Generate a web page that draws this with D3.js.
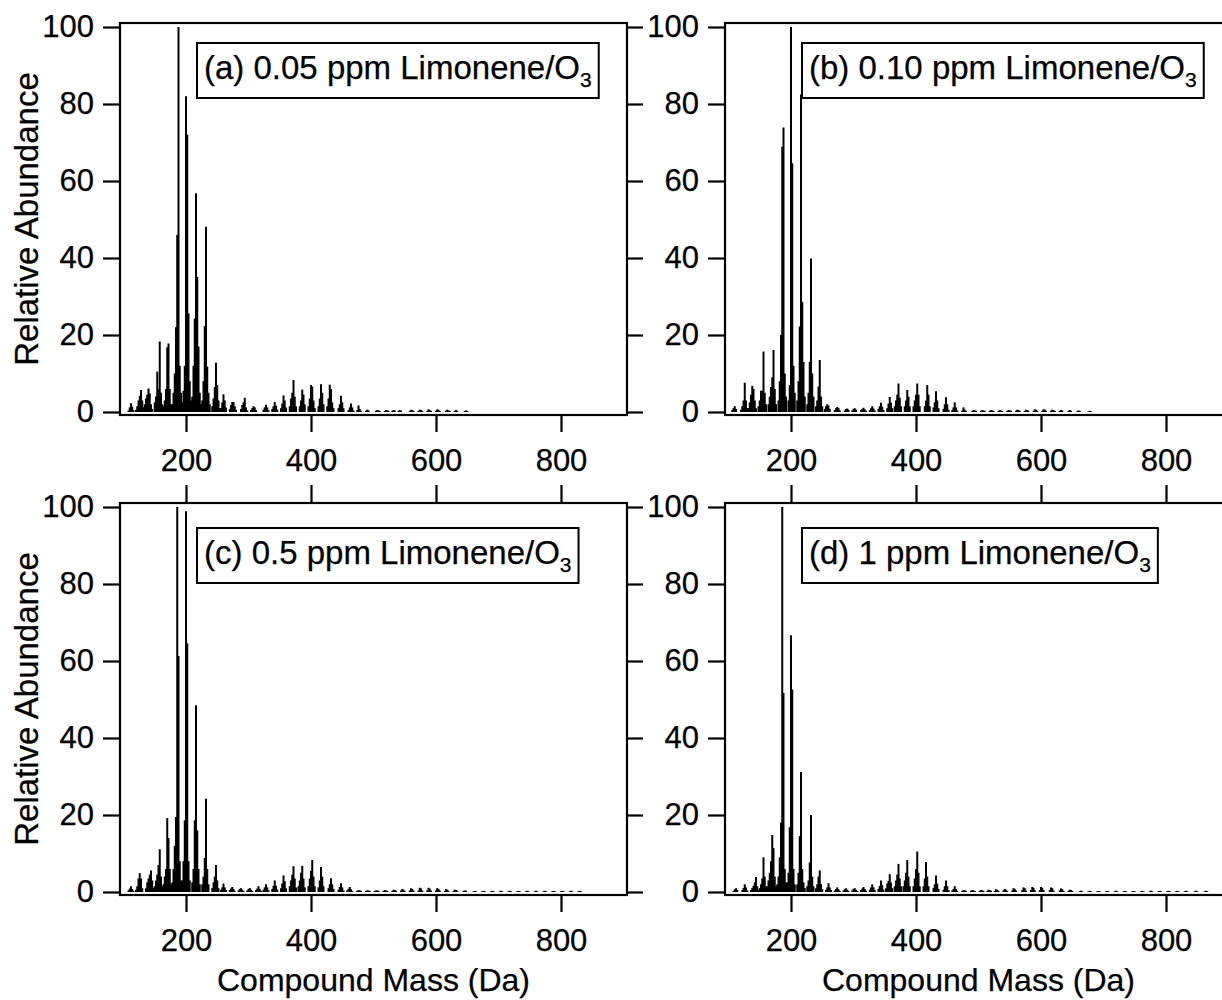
<!DOCTYPE html>
<html>
<head>
<meta charset="utf-8">
<script src="https://cdn.jsdelivr.net/npm/d3@7"></script>
<style>
  html, body { margin: 0; padding: 0; background: #fff; }
  svg { display: block; }
  text { font-family: "Liberation Sans", Arial, Helvetica, sans-serif; fill: #000; }
</style>
</head>
<body>
<svg id="chart" width="1222" height="1000"></svg>
<script>
// ---------------- DATA ----------------
// Each cluster: [first mass (Da), abundance at that mass, at mass+2, at mass+4, ...]
const spectrumA = [
  [108, 0.4, 1.2, 2.3, 1.4, 0.5],
  [120, 0.6, 1.5, 3.0, 4.2, 5.7, 3.0, 1.2],
  [132, 0.8, 2.0, 3.5, 4.5, 6.1, 4.8, 2.0, 0.8],
  [150, 2.5, 4.0, 10.5, 6.0, 18.3, 5.0, 2.0],
  [164, 1.5, 3.0, 6.0, 16.8, 17.8, 6.0, 2.0],
  [178, 2.0, 5.0, 10.0, 22.0, 46.0, 100, 12.0, 5.0],
  [194, 2.5, 5.5, 12.0, 82.0, 72.0, 25.6, 8.0, 3.0],
  [210, 4.0, 12.0, 24.3, 56.8, 35.1, 17.0, 5.0, 2.0],
  [226, 3.0, 8.0, 22.3, 48.1, 11.8, 5.0, 2.0],
  [242, 1.5, 3.5, 6.5, 12.8, 7.0, 3.0, 1.0],
  [256, 1.0, 2.5, 4.6, 3.0, 1.2],
  [270, 0.8, 1.8, 2.6, 2.6, 1.5, 0.6],
  [288, 0.8, 1.8, 2.5, 3.7, 1.2, 0.4],
  [304, 0.5, 1.0, 1.5, 1.2, 0.5],
  [324, 0.6, 1.2, 1.9, 1.2, 0.5],
  [338, 0.8, 1.5, 2.6, 1.6, 0.6],
  [352, 1.0, 2.2, 4.3, 3.0, 1.2],
  [366, 1.5, 3.5, 5.0, 8.3, 4.0, 1.5],
  [382, 1.5, 3.0, 5.8, 4.5, 2.0],
  [396, 1.5, 3.5, 7.0, 6.6, 3.0, 1.0],
  [412, 1.5, 3.5, 7.2, 5.0, 2.0],
  [426, 1.5, 3.5, 7.1, 6.0, 2.5, 1.0],
  [444, 1.0, 2.0, 4.2, 2.5, 1.0],
  [460, 0.5, 1.2, 2.2, 1.2, 0.4],
  [474, 0.5, 1.7, 0.8, 0.3],
  [488, 0.3, 0.6, 0.4],
  [504, 0.3, 0.5, 0.4, 0.3],
  [518, 0.3, 0.5, 0.5, 0.3],
  [530, 0.3, 0.5, 0.4],
  [540, 0.3, 0.5, 0.4],
  [558, 0.3, 0.6, 0.5, 0.3],
  [572, 0.3, 0.6, 0.5, 0.3],
  [586, 0.3, 0.7, 0.5, 0.3],
  [600, 0.3, 0.7, 0.5, 0.3],
  [616, 0.3, 0.6, 0.4, 0.3],
  [630, 0.3, 0.5, 0.3],
  [646, 0.3, 0.4, 0.3]
];

const spectrumB = [
  [106, 0.5, 1.0, 1.5, 0.8],
  [120, 0.6, 1.5, 3.0, 7.6, 3.0, 1.0],
  [132, 1.0, 2.5, 4.5, 6.8, 6.0, 3.0, 1.0],
  [148, 1.5, 3.0, 5.5, 5.5, 15.7, 5.0, 2.0],
  [164, 2.0, 4.0, 6.5, 9.0, 16.1, 6.0, 2.0],
  [180, 3.0, 8.0, 20.0, 68.9, 73.9, 10.0, 4.0],
  [196, 3.0, 7.0, 100, 64.6, 12.0, 5.0],
  [210, 3.0, 8.0, 22.2, 82.5, 28.6, 13.0, 4.0],
  [226, 2.0, 5.0, 13.0, 39.9, 10.0, 4.0],
  [240, 1.5, 3.0, 6.6, 13.5, 4.0, 1.5],
  [254, 0.8, 1.5, 2.0, 1.7, 0.8],
  [270, 0.5, 1.0, 1.3, 1.0, 0.4],
  [286, 0.4, 0.8, 0.9, 0.6],
  [298, 0.4, 0.8, 1.0, 0.6],
  [312, 0.5, 0.8, 1.1, 0.7, 0.3],
  [326, 0.5, 1.0, 1.5, 0.9, 0.4],
  [340, 0.8, 1.5, 2.4, 1.4, 0.5],
  [354, 1.0, 2.2, 3.9, 2.5, 1.0],
  [366, 1.5, 3.0, 4.5, 7.4, 3.7, 1.5],
  [382, 1.5, 3.0, 5.7, 4.0, 1.5],
  [396, 1.5, 3.0, 4.5, 7.4, 4.5, 1.5],
  [414, 1.5, 3.0, 7.0, 4.5, 1.5],
  [428, 1.2, 2.5, 5.4, 3.0, 1.0],
  [444, 0.8, 2.0, 3.8, 2.0, 0.6],
  [458, 0.5, 1.2, 2.5, 1.2, 0.4],
  [474, 0.4, 1.2, 0.6, 0.3],
  [490, 0.3, 0.5, 0.4, 0.3],
  [504, 0.3, 0.5, 0.4, 0.3],
  [518, 0.3, 0.5, 0.4, 0.3],
  [532, 0.3, 0.5, 0.4, 0.3],
  [546, 0.3, 0.5, 0.4, 0.3],
  [560, 0.3, 0.6, 0.5, 0.3],
  [574, 0.3, 0.6, 0.5, 0.3],
  [588, 0.3, 0.7, 0.6, 0.3],
  [602, 0.3, 0.7, 0.6, 0.3],
  [616, 0.3, 0.6, 0.5, 0.3],
  [630, 0.3, 0.5, 0.4],
  [644, 0.3, 0.5, 0.3],
  [658, 0.2, 0.4, 0.3],
  [676, 0.2, 0.3, 0.2]
];

const spectrumC = [
  [108, 0.4, 0.9, 1.5, 0.8, 0.3],
  [120, 0.6, 1.5, 3.5, 4.9, 3.5, 1.0],
  [136, 1.0, 2.5, 3.5, 4.5, 5.6, 3.0, 1.0],
  [150, 1.5, 3.0, 4.5, 7.0, 11.1, 4.0, 1.5],
  [164, 2.0, 4.0, 6.0, 19.2, 14.0, 6.0, 2.0],
  [178, 2.5, 6.0, 12.0, 19.5, 100, 61.3, 8.0, 3.0],
  [194, 3.0, 8.0, 18.6, 98.9, 64.6, 8.0, 3.0],
  [210, 2.5, 6.0, 18.6, 48.5, 16.0, 6.0, 2.0],
  [226, 2.0, 4.0, 8.8, 24.2, 6.0, 2.0],
  [242, 1.0, 2.5, 4.0, 7.0, 3.0, 1.0],
  [256, 0.6, 1.2, 2.2, 1.2, 0.5],
  [270, 0.5, 0.9, 1.3, 0.8, 0.3],
  [284, 0.4, 0.8, 1.0, 0.6, 0.3],
  [298, 0.4, 0.8, 1.0, 0.6, 0.3],
  [312, 0.5, 0.9, 1.5, 0.8, 0.3],
  [324, 0.6, 1.2, 2.0, 1.2, 0.5],
  [338, 0.8, 1.6, 3.0, 1.6, 0.6],
  [352, 1.0, 2.2, 4.3, 2.8, 1.0],
  [366, 1.5, 3.0, 4.5, 6.7, 3.5, 1.2],
  [380, 1.5, 3.0, 5.0, 6.8, 3.5, 1.2],
  [396, 1.5, 3.5, 5.5, 8.3, 4.0, 1.5],
  [412, 1.2, 3.0, 6.5, 4.0, 1.5],
  [428, 1.0, 2.0, 3.6, 2.0, 0.8],
  [444, 0.6, 1.3, 2.3, 1.2, 0.4],
  [458, 0.4, 0.8, 1.3, 0.7, 0.3],
  [474, 0.3, 0.5, 0.4, 0.3],
  [488, 0.3, 0.4, 0.4, 0.3],
  [502, 0.3, 0.4, 0.4, 0.3],
  [516, 0.3, 0.5, 0.4, 0.3],
  [530, 0.3, 0.6, 0.5, 0.3],
  [544, 0.4, 0.8, 0.6, 0.3],
  [558, 0.4, 1.0, 0.8, 0.4],
  [572, 0.4, 1.1, 0.9, 0.4],
  [586, 0.4, 1.1, 0.9, 0.4],
  [600, 0.4, 1.0, 0.8, 0.4],
  [614, 0.3, 0.8, 0.6, 0.3],
  [628, 0.3, 0.6, 0.5, 0.3],
  [644, 0.3, 0.4, 0.3],
  [660, 0.2, 0.3, 0.2],
  [674, 0.2, 0.3, 0.2],
  [688, 0.2, 0.3, 0.2],
  [702, 0.2, 0.3, 0.2],
  [716, 0.2, 0.3, 0.2],
  [730, 0.2, 0.3, 0.2],
  [744, 0.2, 0.3, 0.2],
  [758, 0.2, 0.3, 0.2],
  [772, 0.2, 0.3, 0.2],
  [786, 0.2, 0.3, 0.2],
  [800, 0.2, 0.3, 0.2],
  [814, 0.2, 0.3, 0.2],
  [828, 0.2, 0.3, 0.2]
];

const spectrumD = [
  [108, 0.3, 0.7, 1.0, 0.5],
  [122, 0.5, 1.0, 2.0, 1.2, 0.4],
  [136, 0.5, 1.0, 1.6, 2.5, 3.9, 1.5, 0.5],
  [150, 1.0, 2.0, 3.5, 9.0, 4.0, 1.5],
  [162, 1.5, 3.0, 5.0, 8.0, 14.8, 11.4, 4.0, 1.5],
  [178, 2.0, 4.0, 9.0, 18.0, 100, 51.7, 6.0, 2.5],
  [194, 2.5, 5.0, 16.8, 66.7, 52.6, 6.0, 2.0],
  [210, 2.0, 5.0, 14.5, 31.2, 6.0, 2.5, 1.0],
  [226, 1.5, 3.0, 7.7, 20.0, 4.0, 1.5],
  [240, 1.0, 2.0, 4.0, 5.6, 2.0, 0.8],
  [256, 0.6, 1.2, 2.3, 1.2, 0.5],
  [270, 0.4, 0.8, 1.2, 0.7, 0.3],
  [284, 0.4, 0.8, 1.0, 0.6, 0.3],
  [298, 0.4, 0.8, 1.0, 0.6, 0.3],
  [312, 0.5, 0.9, 1.3, 0.8, 0.3],
  [326, 0.6, 1.2, 2.0, 1.2, 0.5],
  [340, 0.8, 1.6, 3.0, 1.8, 0.6],
  [352, 1.0, 2.2, 2.9, 4.6, 2.5, 1.0],
  [366, 1.5, 3.0, 4.5, 7.3, 3.5, 1.5],
  [380, 1.5, 3.0, 5.0, 8.3, 4.0, 1.5],
  [396, 1.5, 3.5, 6.0, 10.5, 5.0, 1.5],
  [412, 1.5, 3.5, 7.8, 4.0, 1.5],
  [428, 1.0, 2.0, 4.3, 2.2, 0.8],
  [444, 0.6, 1.5, 3.0, 1.5, 0.5],
  [458, 0.4, 0.8, 1.5, 0.8, 0.3],
  [474, 0.3, 0.5, 0.4, 0.3],
  [488, 0.3, 0.5, 0.4, 0.3],
  [502, 0.3, 0.5, 0.4, 0.3],
  [514, 0.3, 0.6, 0.5, 0.3],
  [526, 0.3, 0.7, 0.6, 0.3],
  [540, 0.4, 0.8, 0.6, 0.3],
  [554, 0.4, 1.0, 0.8, 0.4],
  [570, 0.5, 1.2, 1.0, 0.4],
  [584, 0.5, 1.3, 1.1, 0.5],
  [598, 0.5, 1.3, 1.1, 0.5],
  [614, 0.5, 1.2, 1.0, 0.4],
  [630, 0.4, 0.9, 0.7, 0.3],
  [644, 0.3, 0.6, 0.5, 0.3],
  [662, 0.2, 0.3, 0.2],
  [676, 0.2, 0.3, 0.2],
  [690, 0.2, 0.3, 0.2],
  [704, 0.2, 0.3, 0.2],
  [718, 0.2, 0.3, 0.2],
  [732, 0.2, 0.3, 0.2],
  [746, 0.2, 0.3, 0.2],
  [760, 0.2, 0.3, 0.2],
  [774, 0.2, 0.3, 0.2],
  [788, 0.2, 0.3, 0.2],
  [802, 0.2, 0.3, 0.2],
  [816, 0.2, 0.3, 0.2],
  [830, 0.2, 0.3, 0.2],
  [846, 0.2, 0.3, 0.2],
  [862, 0.2, 0.3, 0.2]
];

const panelLabels = ["(a) 0.05 ppm Limonene/O", "(b) 0.10 ppm Limonene/O", "(c) 0.5 ppm Limonene/O", "(d) 1 ppm Limonene/O"];
const labelSubscript = "3";
const xTicks = [200, 400, 600, 800];
const yTicks = [0, 20, 40, 60, 80, 100];
const xDomain = [94.4, 905.6];
const yDomain = [0, 100];
const xTitle = "Compound Mass (Da)";
const yTitle = "Relative Abundance";

// ---------------- LAYOUT ----------------
const W = 507, H = 392;
const panels = [
  { data: spectrumA, label: panelLabels[0], x0: 120, y0: 23,  yTitle: true,  xTitle: false, right: true,  top: false, boxDy: 20, baseDy: 56 },
  { data: spectrumB, label: panelLabels[1], x0: 725, y0: 23,  yTitle: false, xTitle: false, right: false, top: false, boxDy: 20, baseDy: 56 },
  { data: spectrumC, label: panelLabels[2], x0: 120, y0: 503, yTitle: true,  xTitle: true,  right: true,  top: true,  boxDy: 25, baseDy: 61 },
  { data: spectrumD, label: panelLabels[3], x0: 725, y0: 503, yTitle: false, xTitle: true,  right: false, top: true,  boxDy: 25, baseDy: 61 }
];

const svg = d3.select("#chart");
svg.append("rect").attr("width", 1222).attr("height", 1000).attr("fill", "#fff");

const FS_TICK = 31, FS_XTITLE = 32, FS_YTITLE = 33, FS_LABEL = 33;
const FONT = '"Liberation Sans", Arial, sans-serif';
const TXT_STROKE = 0.25;

panels.forEach((p, i) => {
  const x = d3.scaleLinear().domain(xDomain).range([p.x0, p.x0 + W]);
  const y = d3.scaleLinear().domain(yDomain).range([p.y0 + 389, p.y0 + 4]);
  const g = svg.append("g");

  // sticks
  const sticks = [];
  p.data.forEach(c => {
    for (let k = 1; k < c.length; k++) sticks.push({ m: c[0] + 2 * (k - 1), v: c[k] });
  });
  g.append("g").selectAll("line").data(sticks).join("line")
    .attr("x1", d => x(d.m)).attr("x2", d => x(d.m))
    .attr("y1", y(0)).attr("y2", d => y(d.v))
    .attr("stroke", "#000").attr("stroke-width", 2);

  // frame
  g.append("rect").attr("x", p.x0).attr("y", p.y0).attr("width", W).attr("height", H)
    .attr("fill", "none").attr("stroke", "#000").attr("stroke-width", 2.2);

  // bottom axis
  const gx = g.append("g").attr("transform", `translate(0,${p.y0 + H})`)
    .call(d3.axisBottom(x).tickValues(xTicks).tickSize(17).tickPadding(17));
  // left axis
  const gy = g.append("g").attr("transform", `translate(${p.x0},0)`)
    .call(d3.axisLeft(y).tickValues(yTicks).tickSize(17).tickPadding(9));
  const axes = [gx, gy];
  if (p.right) {
    axes.push(g.append("g").attr("transform", `translate(${p.x0 + W},0)`)
      .call(d3.axisRight(y).tickValues(yTicks).tickSize(16).tickFormat("")));
  }
  if (p.top) {
    axes.push(g.append("g").attr("transform", `translate(0,${p.y0})`)
      .call(d3.axisTop(x).tickValues(xTicks).tickSize(18).tickFormat("")));
  }
  axes.forEach(a => {
    a.select(".domain").remove();
    a.selectAll(".tick line").attr("stroke", "#000").attr("stroke-width", 2.2);
    a.selectAll(".tick text").attr("font-size", FS_TICK).attr("fill", "#000")
      .attr("font-family", FONT).attr("stroke", "#000").attr("stroke-width", TXT_STROKE);
  });

  // label box
  const lx = p.x0 + 84, ly = p.y0 + p.baseDy;
  const t = g.append("text").attr("x", lx).attr("y", ly).attr("font-size", FS_LABEL)
    .attr("stroke", "#000").attr("stroke-width", TXT_STROKE);
  t.append("tspan").text(p.label);
  t.append("tspan").attr("font-size", 21).attr("dy", 8).text(labelSubscript);
  const bb = t.node().getBBox();
  g.insert("rect", () => t.node()).attr("x", p.x0 + 77).attr("y", p.y0 + p.boxDy)
    .attr("width", bb.x + bb.width + 7 - (p.x0 + 77)).attr("height", 55)
    .attr("fill", "#fff").attr("stroke", "#000").attr("stroke-width", 2);

  if (p.yTitle) {
    svg.append("text").attr("transform", `translate(38,${p.y0 + H / 2}) rotate(-90)`)
      .attr("text-anchor", "middle").attr("font-size", FS_YTITLE)
      .attr("stroke", "#000").attr("stroke-width", TXT_STROKE).text(yTitle);
  }
  if (p.xTitle) {
    svg.append("text").attr("x", p.x0 + W / 2).attr("y", 991)
      .attr("text-anchor", "middle").attr("font-size", FS_XTITLE)
      .attr("stroke", "#000").attr("stroke-width", TXT_STROKE).text(xTitle);
  }
});
</script>
</body>
</html>
